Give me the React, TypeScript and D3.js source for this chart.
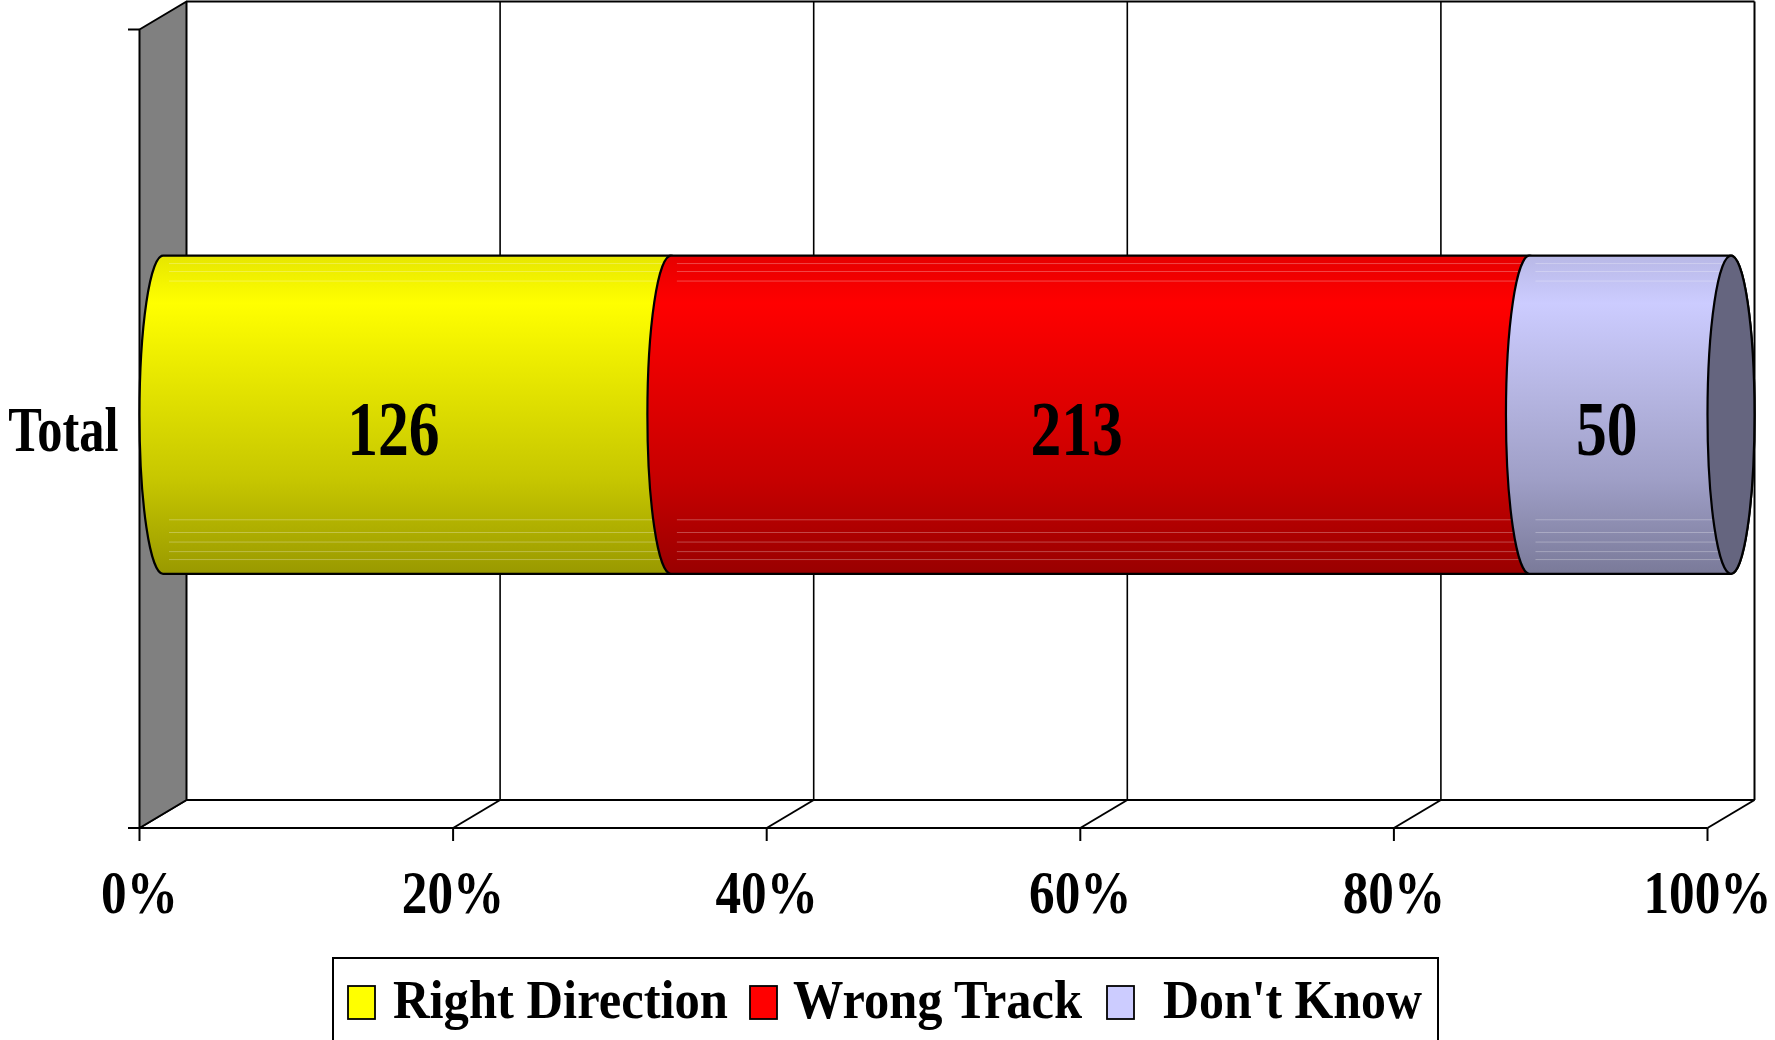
import React from "react";
import * as d3 from "d3";

// ---------- data ----------
const categories = ["Total"];
const seriesNames = ["Right Direction", "Wrong Track", "Don't Know"];
const rightDirection = [126];
const wrongTrack = [213];
const dontKnow = [50];
const tickValues = [0, 0.2, 0.4, 0.6, 0.8, 1];
const tickLabels = ["0%", "20%", "40%", "60%", "80%", "100%"];
const seriesColors = ["#FFFF00", "#FF0000", "#CCCCFF"];

// ---------- layout ----------
const W = 1775;
const H = 1040;
const frontLeft = 139.5;
const frontRight = 1707.5;
const frontTop = 29.5;
const frontBottom = 828;
const depthX = 47;
const depthY = -28;
const FONT = "'Times New Roman', 'Liberation Serif', serif";

const legendLayout = {
  left: 333,
  right: 1438,
  top: 958,
  swatchX: [348, 750, 1107],
  swatchW: 27,
  swatchY: 986,
  swatchH: 33,
  textX: [393, 793, 1163],
  textW: [335, 289, 259],
  baseline: 1018,
  fontSize: 55,
};

function shade(c: string, f: number) {
  const r = d3.rgb(c);
  return d3.rgb(r.r * f, r.g * f, r.b * f).formatHex();
}

const gradStops: [number, number][] = [
  [0, 0.9],
  [0.15, 1.0],
  [0.45, 0.88],
  [0.7, 0.78],
  [1, 0.6],
];
const stripeFractions = [0.025, 0.05, 0.08, 0.83, 0.87, 0.9, 0.93, 0.955];

export default function App() {
  const rows = categories.map((c, i) => ({
    category: c,
    [seriesNames[0]]: rightDirection[i],
    [seriesNames[1]]: wrongTrack[i],
    [seriesNames[2]]: dontKnow[i],
  }));
  const stack = d3
    .stack<any>()
    .keys(seriesNames)
    .offset(d3.stackOffsetExpand);
  const series = stack(rows as any);

  const xF = d3.scaleLinear().domain([0, 1]).range([frontLeft, frontRight]);
  const xB = (v: number) => xF(v) + depthX;
  const yBand = d3
    .scaleBand()
    .domain(categories)
    .range([frontTop, frontBottom])
    .paddingInner(0.43)
    .paddingOuter(0.43);
  const backTop = frontTop + depthY;
  const backBottom = frontBottom + depthY;

  const rx = depthX / 2;
  const bw = yBand.bandwidth();
  const ry = bw / 2;

  return (
    <svg
      width={W}
      height={H}
      viewBox={`0 0 ${W} ${H}`}
      style={{ position: "absolute", left: 0, top: 0, display: "block", background: "#fff" }}
    >
      <defs>
        {seriesColors.map((c, i) => (
          <linearGradient key={i} id={`g${i}`} x1="0" y1="0" x2="0" y2="1">
            {gradStops.map(([o, f], j) => (
              <stop key={j} offset={o} stopColor={shade(c, f)} />
            ))}
          </linearGradient>
        ))}
      </defs>

      {/* back wall */}
      <rect
        x={xB(0)}
        y={backTop}
        width={xB(1) - xB(0)}
        height={backBottom - backTop}
        fill="#fff"
      />
      {tickValues.slice(1, -1).map((t) => (
        <line key={t} x1={xB(t)} x2={xB(t)} y1={backTop} y2={backBottom} stroke="#000" strokeWidth={1.6} />
      ))}
      <line x1={xB(0)} x2={xB(1)} y1={backTop} y2={backTop} stroke="#000" strokeWidth={2} />
      <line x1={xB(1)} x2={xB(1)} y1={backTop} y2={backBottom} stroke="#000" strokeWidth={2} />

      {/* floor */}
      <line x1={xB(0)} x2={xB(1)} y1={backBottom} y2={backBottom} stroke="#000" strokeWidth={2} />
      {tickValues.map((t) => (
        <line key={t} x1={xF(t)} x2={xB(t)} y1={frontBottom} y2={backBottom} stroke="#000" strokeWidth={2} />
      ))}

      {/* left wall */}
      <polygon
        points={`${xF(0)},${frontTop} ${xB(0)},${backTop} ${xB(0)},${backBottom} ${xF(0)},${frontBottom}`}
        fill="#808080"
        stroke="#000"
        strokeWidth={2}
        strokeLinejoin="round"
      />

      {/* axes */}
      <line x1={frontLeft - 11.5} x2={xF(1)} y1={frontBottom} y2={frontBottom} stroke="#000" strokeWidth={2} />
      <line x1={frontLeft - 11.5} x2={frontLeft} y1={frontTop} y2={frontTop} stroke="#000" strokeWidth={2} />
      {tickValues.map((t) => (
        <line key={t} x1={xF(t)} x2={xF(t)} y1={frontBottom} y2={frontBottom + 13} stroke="#000" strokeWidth={2} />
      ))}
      {tickValues.map((t, i) => (
        <text
          key={t}
          transform={`translate(${xF(t)},${frontBottom + 85}) scale(0.84,1)`}
          textAnchor="middle"
          fontFamily={FONT}
          fontWeight="bold"
          fontSize={61}
          fill="#000"
        >
          {tickLabels[i]}
        </text>
      ))}
      {categories.map((c) => (
        <text
          key={c}
          transform={`translate(${frontLeft - 21},${(yBand(c) as number) + bw / 2 + 22}) scale(0.8,1)`}
          textAnchor="end"
          fontFamily={FONT}
          fontWeight="bold"
          fontSize={63}
          fill="#000"
        >
          {c}
        </text>
      ))}

      {/* cylinders */}
      {categories.map((c, ci) => {
        const yc = (yBand(c) as number) + bw / 2 + depthY / 2;
        const yT = yc - ry;
        const yBt = yc + ry;
        return (
          <g key={c}>
            {series.map((s, si) => {
              const d = s[ci];
              const x0 = xF(d[0]) + rx;
              const x1 = xF(d[1]) + rx;
              const p = `M${x0},${yT} L${x1},${yT} A${rx},${ry} 0 0 1 ${x1},${yBt} L${x0},${yBt} A${rx},${ry} 0 0 1 ${x0},${yT} Z`;
              return (
                <g key={s.key}>
                  <path d={p} fill={`url(#g${si})`} />
                  {stripeFractions.map((f) => (
                    <line
                      key={f}
                      x1={x0 + 6}
                      x2={x1}
                      y1={yT + f * bw}
                      y2={yT + f * bw}
                      stroke="#fff"
                      strokeOpacity={0.28}
                      strokeWidth={1}
                    />
                  ))}
                  <path d={p} fill="none" stroke="#000" strokeWidth={2.2} strokeLinejoin="round" />
                </g>
              );
            })}
            {(() => {
              const last = series[series.length - 1][ci];
              const xe = xF(last[1]) + rx;
              return (
                <ellipse cx={xe} cy={yc} rx={rx} ry={ry} fill="#65657F" stroke="#000" strokeWidth={2.2} />
              );
            })()}
            {series.map((s) => {
              const d = s[ci];
              const xm = xF((d[0] + d[1]) / 2);
              return (
                <text
                  key={s.key}
                  transform={`translate(${xm},${(yBand(c) as number) + bw / 2 + 26.5}) scale(0.79,1)`}
                  textAnchor="middle"
                  fontFamily={FONT}
                  fontWeight="bold"
                  fontSize={78}
                  fill="#000"
                >
                  {String(d.data[s.key as string])}
                </text>
              );
            })}
          </g>
        );
      })}

      {/* legend */}
      <rect
        x={legendLayout.left}
        y={legendLayout.top}
        width={legendLayout.right - legendLayout.left}
        height={H + 20 - legendLayout.top}
        fill="#fff"
        stroke="#000"
        strokeWidth={2}
      />
      {seriesNames.map((n, i) => (
        <g key={n}>
          <rect
            x={legendLayout.swatchX[i]}
            y={legendLayout.swatchY}
            width={legendLayout.swatchW}
            height={legendLayout.swatchH}
            fill={seriesColors[i]}
            stroke="#000"
            strokeWidth={1.8}
          />
          <text
            x={legendLayout.textX[i]}
            y={legendLayout.baseline}
            textLength={legendLayout.textW[i]}
            lengthAdjust="spacingAndGlyphs"
            fontFamily={FONT}
            fontWeight="bold"
            fontSize={legendLayout.fontSize}
            fill="#000"
          >
            {n}
          </text>
        </g>
      ))}
    </svg>
  );
}
